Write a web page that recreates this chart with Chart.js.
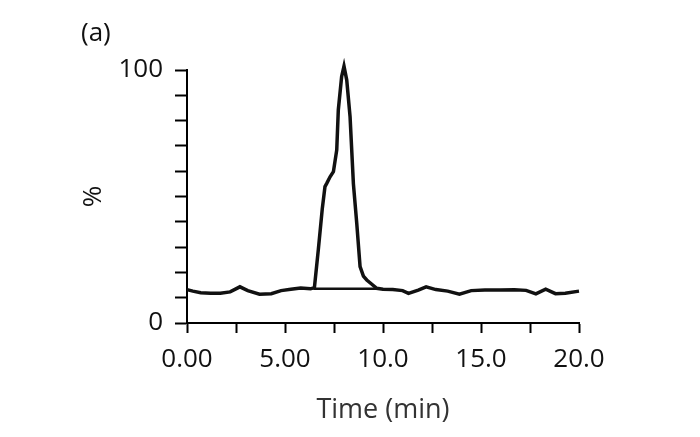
<!DOCTYPE html>
<html>
<head>
<meta charset="utf-8">
<script src="https://cdn.jsdelivr.net/npm/chart.js@4.4.0/dist/chart.umd.min.js"></script>
<style>
  html, body { margin: 0; padding: 0; background: #fff; }
  #wrap { width: 700px; height: 437px; }
</style>
</head>
<body>
<div id="wrap"><canvas id="grafico" width="700" height="437"></canvas></div>
<script>
const tiempos = [0.0, 0.3, 0.7, 1.2, 1.7, 2.2, 2.7, 3.1, 3.7, 4.3, 4.8, 5.3, 5.8, 6.3, 6.5, 6.7, 6.9, 7.04, 7.13, 7.3, 7.47, 7.64, 7.72, 7.89, 8.01, 8.15, 8.32, 8.49, 8.66, 8.83, 9.0, 9.17, 9.4, 9.68, 10.0, 10.5, 11.0, 11.3, 11.8, 12.2, 12.7, 13.3, 13.9, 14.5, 15.2, 16.0, 16.7, 17.3, 17.8, 18.3, 18.8, 19.3, 20.0];
const porcentaje = [13.2, 12.6, 12.0, 11.8, 11.8, 12.3, 14.3, 12.8, 11.4, 11.6, 12.8, 13.3, 13.8, 13.5, 14.0, 29.0, 45.0, 53.9, 55.2, 57.8, 59.8, 68.4, 84.2, 97.4, 101.5, 96.0, 81.5, 55.0, 39.5, 22.3, 18.5, 17.0, 15.5, 13.7, 13.3, 13.2, 12.8, 11.7, 13.0, 14.3, 13.2, 12.6, 11.4, 12.8, 13.0, 13.0, 13.1, 12.9, 11.5, 13.4, 11.6, 11.8, 12.6];

// linea base de integracion bajo el pico
const baseTiempos = [6.45, 9.8];
const basePorcentaje = [13.5, 13.5];

const ticksX = [0, 5, 10, 15, 20];
const etiquetasX = ['0.00', '5.00', '10.0', '15.0', '20.0'];
const ticksY = [0, 100];

const fuente = "'Open Sans', 'Noto Sans', sans-serif";

const puntos = (xs, ys) => xs.map((x, i) => ({ x: x, y: ys[i] }));

// texto "(a)" arriba a la izquierda
const panelLabel = {
  id: 'panelLabel',
  afterDraw(chart) {
    const ctx = chart.ctx;
    ctx.save();
    ctx.fillStyle = '#111';
    ctx.font = '26px ' + fuente;
    ctx.textAlign = 'left';
    ctx.textBaseline = 'middle';
    ctx.fillText('(a)', 81, 34);
    ctx.restore();
  }
};

new Chart(document.getElementById('grafico'), {
  type: 'line',
  data: {
    datasets: [
      {
        data: puntos(tiempos, porcentaje),
        borderColor: '#111',
        borderWidth: 3.5,
        pointRadius: 0,
        tension: 0,
        fill: false,
        clip: false
      },
      {
        data: puntos(baseTiempos, basePorcentaje),
        borderColor: '#111',
        borderWidth: 2.5,
        pointRadius: 0,
        fill: false
      }
    ]
  },
  options: {
    responsive: false,
    animation: false,
    layout: { padding: { left: 0, right: 121, top: 70, bottom: 0 } },
    plugins: {
      legend: { display: false },
      tooltip: { enabled: false }
    },
    scales: {
      x: {
        type: 'linear',
        min: 0,
        max: 20,
        afterFit: s => { s.height = 114; },
        border: { color: '#000', width: 2 },
        grid: { drawOnChartArea: false, tickLength: 10, tickColor: '#000', tickWidth: 2 },
        ticks: {
          stepSize: 2.5,
          color: '#111',
          font: { size: 26, family: fuente },
          padding: 11,
          maxRotation: 0,
          autoSkip: false,
          callback: v => {
            const i = ticksX.indexOf(v);
            return i >= 0 ? etiquetasX[i] : '';
          }
        },
        title: {
          display: true,
          text: 'Time (min)',
          color: '#333',
          font: { size: 27, family: fuente },
          padding: { top: 0, bottom: 10 }
        }
      },
      y: {
        min: 0,
        max: 100,
        afterFit: s => { s.width = 187; },
        border: { color: '#000', width: 2 },
        grid: { drawOnChartArea: false, tickLength: 12, tickColor: '#000', tickWidth: 2 },
        ticks: {
          stepSize: 10,
          color: '#111',
          font: { size: 26, family: fuente },
          padding: 12,
          autoSkip: false,
          callback: v => ticksY.includes(v) ? String(v) : ''
        },
        title: {
          display: true,
          text: '%',
          color: '#111',
          font: { size: 26, family: fuente },
          padding: { top: 78, bottom: 0 }
        }
      }
    }
  },
  plugins: [panelLabel]
});
</script>
</body>
</html>
